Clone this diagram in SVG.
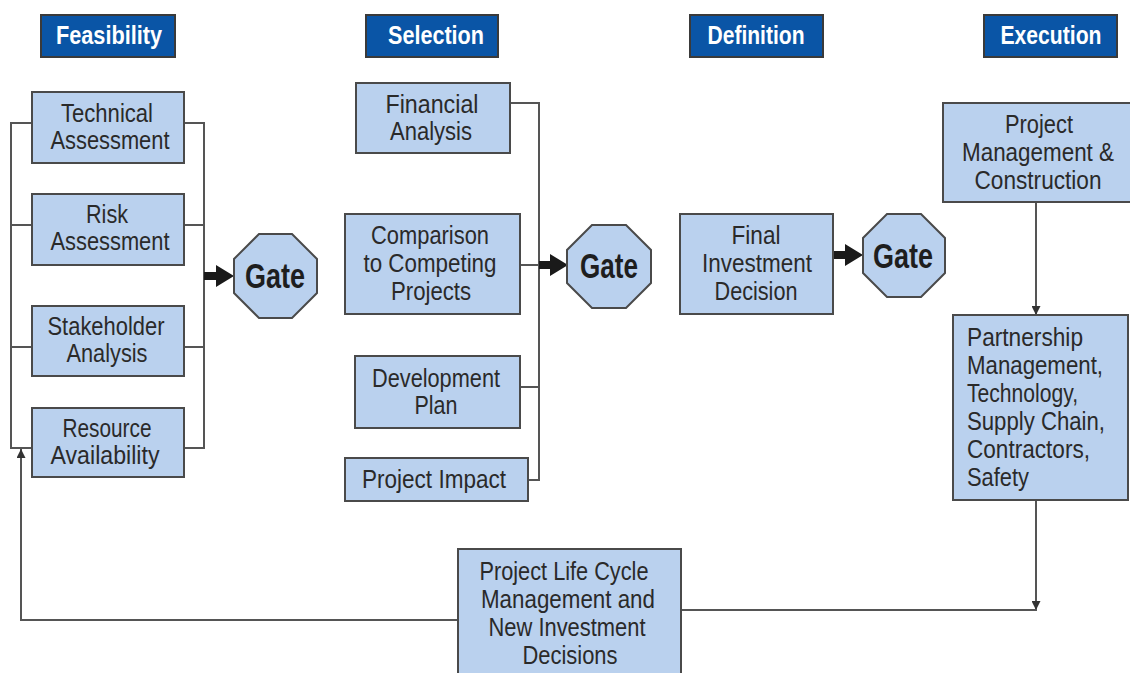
<svg xmlns="http://www.w3.org/2000/svg" width="1130" height="673" viewBox="0 0 1130 673">
<style>
.hdr{fill:#0a55a6;stroke:#3a3a3a;stroke-width:2}
.ht{font-family:"Liberation Sans",Arial,sans-serif;font-weight:bold;font-size:25px;fill:#fff;text-anchor:middle}
.box{fill:#bad1ee;stroke:#4a4a4a;stroke-width:2}
.t{font-family:"Liberation Sans",Arial,sans-serif;font-size:26px;fill:#2a2a2a;text-anchor:middle}
.tl{text-anchor:start}
.gate{fill:#bad1ee;stroke:#4a4a4a;stroke-width:2}
.gt{font-family:"Liberation Sans",Arial,sans-serif;font-weight:bold;font-size:35px;fill:#1e1e1e;text-anchor:middle}
.ln{fill:none;stroke:#555;stroke-width:2}
.big{fill:#1a1a1a}
</style>
<defs>
<marker id="ah" viewBox="0 0 10 10" refX="10" refY="5" markerWidth="9" markerHeight="9" markerUnits="userSpaceOnUse" orient="auto">
<path d="M0,0 L10,5 L0,10 z" fill="#333"/>
</marker>
</defs>

<g id="headers">
<g id="h-feasibility"><rect class="hdr" x="41" y="15" width="134" height="42"/><text class="ht" x="109" y="44" textLength="106" lengthAdjust="spacingAndGlyphs">Feasibility</text></g>
<g id="h-selection"><rect class="hdr" x="366" y="15" width="132" height="42"/><text class="ht" x="436" y="44" textLength="96" lengthAdjust="spacingAndGlyphs">Selection</text></g>
<g id="h-definition"><rect class="hdr" x="690" y="15" width="133" height="42"/><text class="ht" x="756" y="44" textLength="97" lengthAdjust="spacingAndGlyphs">Definition</text></g>
<g id="h-execution"><rect class="hdr" x="984" y="15" width="133" height="42"/><text class="ht" x="1051" y="44" textLength="101" lengthAdjust="spacingAndGlyphs">Execution</text></g>
</g>

<g id="connectors">
<path class="ln" d="M32,123 H11 V448 H32 M11,225 H32 M11,347 H32"/>
<path class="ln" d="M184,123 H204 V448 H184 M184,225 H204 M184,347 H204"/>
<path class="big" d="M204,272 H216 V265 L234,276 L216,287 V280 H204 z"/>
<path class="ln" d="M510,103 H539 V480 H528 M520,265 H539 M520,387 H539"/>
<path class="big" d="M539,261 H550 V254 L568,265 L550,276 V269 H539 z"/>
<path class="big" d="M833,251 H845 V244 L863,255 L845,266 V259 H833 z"/>
<line class="ln" x1="1036" y1="203" x2="1036" y2="315" marker-end="url(#ah)"/>
<line class="ln" x1="1036" y1="500" x2="1036" y2="610" marker-end="url(#ah)"/>
<line class="ln" x1="681" y1="610" x2="1037" y2="610"/>
<path class="ln" d="M458,620 H21 V449" marker-end="url(#ah)"/>
</g>

<g id="n-technical"><rect class="box" x="32" y="92" width="152" height="71"/><text class="t" x="107" y="122" textLength="92" lengthAdjust="spacingAndGlyphs">Technical</text><text class="t" x="110" y="149" textLength="119" lengthAdjust="spacingAndGlyphs">Assessment</text></g>
<g id="n-risk"><rect class="box" x="32" y="194" width="152" height="71"/><text class="t" x="107" y="223" textLength="42" lengthAdjust="spacingAndGlyphs">Risk</text><text class="t" x="110" y="250" textLength="119" lengthAdjust="spacingAndGlyphs">Assessment</text></g>
<g id="n-stakeholder"><rect class="box" x="32" y="306" width="152" height="70"/><text class="t" x="106" y="335" textLength="117" lengthAdjust="spacingAndGlyphs">Stakeholder</text><text class="t" x="107" y="362" textLength="81" lengthAdjust="spacingAndGlyphs">Analysis</text></g>
<g id="n-resource"><rect class="box" x="32" y="408" width="152" height="69"/><text class="t" x="107" y="437" textLength="89" lengthAdjust="spacingAndGlyphs">Resource</text><text class="t" x="105" y="464" textLength="109" lengthAdjust="spacingAndGlyphs">Availability</text></g>
<g id="gate1"><polygon class="gate" points="259,234 292,234 317,259 317,293 292,318 259,318 234,293 234,259"/><text class="gt" x="275" y="288" textLength="60" lengthAdjust="spacingAndGlyphs">Gate</text></g>

<g id="n-financial"><rect class="box" x="356" y="83" width="154" height="70"/><text class="t" x="432" y="113" textLength="93" lengthAdjust="spacingAndGlyphs">Financial</text><text class="t" x="431" y="140" textLength="82" lengthAdjust="spacingAndGlyphs">Analysis</text></g>
<g id="n-comparison"><rect class="box" x="345" y="214" width="175" height="100"/><text class="t" x="430" y="244" textLength="118" lengthAdjust="spacingAndGlyphs">Comparison</text><text class="t" x="430" y="272" textLength="133" lengthAdjust="spacingAndGlyphs">to Competing</text><text class="t" x="431" y="300" textLength="80" lengthAdjust="spacingAndGlyphs">Projects</text></g>
<g id="n-development"><rect class="box" x="355" y="356" width="165" height="72"/><text class="t" x="436" y="387" textLength="128" lengthAdjust="spacingAndGlyphs">Development</text><text class="t" x="436" y="414" textLength="43" lengthAdjust="spacingAndGlyphs">Plan</text></g>
<g id="n-impact"><rect class="box" x="345" y="458" width="183" height="43"/><text class="t" x="434" y="488" textLength="144" lengthAdjust="spacingAndGlyphs">Project Impact</text></g>
<g id="gate2"><polygon class="gate" points="592,225 626,225 651,250 651,283 626,308 592,308 567,283 567,250"/><text class="gt" x="609" y="278" textLength="58" lengthAdjust="spacingAndGlyphs">Gate</text></g>

<g id="n-final"><rect class="box" x="680" y="214" width="153" height="100"/><text class="t" x="756" y="244" textLength="49" lengthAdjust="spacingAndGlyphs">Final</text><text class="t" x="757" y="272" textLength="110" lengthAdjust="spacingAndGlyphs">Investment</text><text class="t" x="756" y="300" textLength="83" lengthAdjust="spacingAndGlyphs">Decision</text></g>
<g id="gate3"><polygon class="gate" points="887,214 921,214 945,238 945,273 921,297 887,297 863,273 863,238"/><text class="gt" x="903" y="268" textLength="60" lengthAdjust="spacingAndGlyphs">Gate</text></g>

<g id="n-pmc"><rect class="box" x="943" y="103" width="190" height="99"/><text class="t" x="1039" y="133" textLength="68" lengthAdjust="spacingAndGlyphs">Project</text><text class="t" x="1038" y="161" textLength="152" lengthAdjust="spacingAndGlyphs">Management &amp;</text><text class="t" x="1038" y="189" textLength="127" lengthAdjust="spacingAndGlyphs">Construction</text></g>
<g id="n-partnership"><rect class="box" x="953" y="315" width="175" height="185"/>
<text class="t tl" x="967" y="346" textLength="116" lengthAdjust="spacingAndGlyphs">Partnership</text><text class="t tl" x="967" y="374" textLength="136" lengthAdjust="spacingAndGlyphs">Management,</text><text class="t tl" x="967" y="402" textLength="111" lengthAdjust="spacingAndGlyphs">Technology,</text><text class="t tl" x="967" y="430" textLength="138" lengthAdjust="spacingAndGlyphs">Supply Chain,</text><text class="t tl" x="967" y="458" textLength="123" lengthAdjust="spacingAndGlyphs">Contractors,</text><text class="t tl" x="967" y="486" textLength="62" lengthAdjust="spacingAndGlyphs">Safety</text></g>
<g id="n-lifecycle"><rect class="box" x="458" y="549" width="223" height="130"/><text class="t" x="564" y="580" textLength="169" lengthAdjust="spacingAndGlyphs">Project Life Cycle</text><text class="t" x="568" y="608" textLength="174" lengthAdjust="spacingAndGlyphs">Management and</text><text class="t" x="567" y="636" textLength="157" lengthAdjust="spacingAndGlyphs">New Investment</text><text class="t" x="570" y="664" textLength="95" lengthAdjust="spacingAndGlyphs">Decisions</text></g>
</svg>
